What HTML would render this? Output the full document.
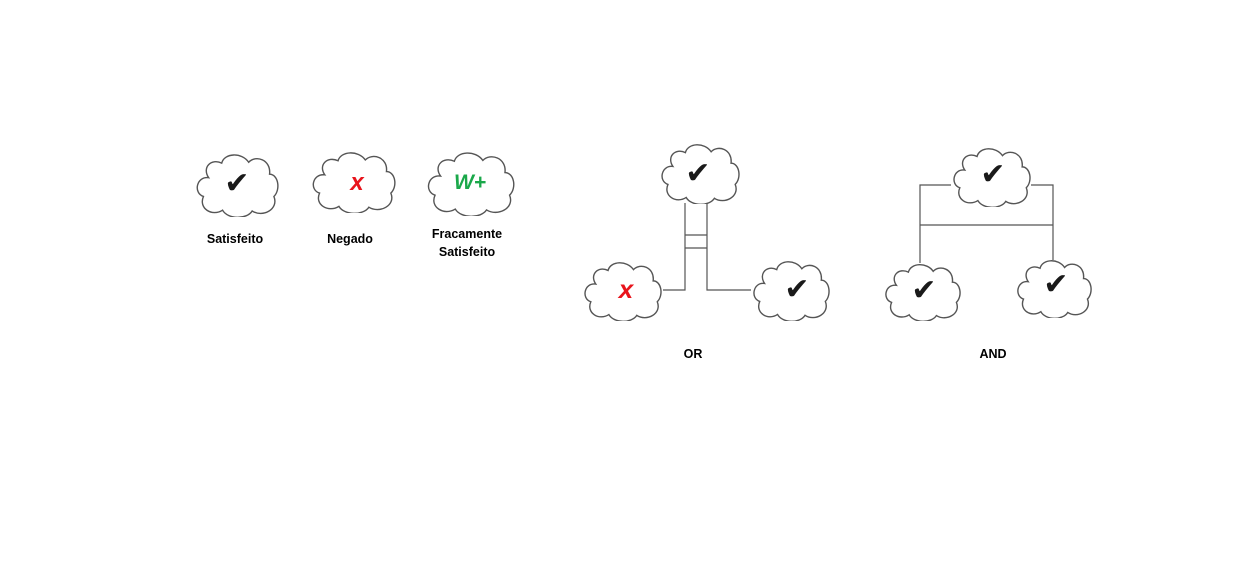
<!DOCTYPE html>
<html><head><meta charset="utf-8"><style>
html,body{margin:0;padding:0;background:#fff;width:1251px;height:588px;overflow:hidden}
svg{display:block}
text{font-family:"Liberation Sans",sans-serif}
.l{font-size:12.5px;font-weight:bold;fill:#000;text-anchor:middle}
.ck{font-size:30px;fill:#1a1a1a;text-anchor:middle;font-family:"DejaVu Sans",sans-serif}
</style></head><body>
<svg width="1251" height="588" viewBox="0 0 1251 588" xmlns="http://www.w3.org/2000/svg">
<defs>
<symbol id="c" viewBox="0 0 100 76" preserveAspectRatio="none">
<path vector-effect="non-scaling-stroke" fill="#fff" stroke="#555" stroke-width="1.4" d="M18,30 C4,28 0,48 12,52 C6,66 22,76 34,68 C40,79 62,79 68,69 C80,77 99,67 93,52 C101,44 98,26 88,26 C90,9 72,3 64,12 C56,0 36,1 33,13 C21,7 10,18 18,30 Z"/>
</symbol>
</defs>
<g fill="none" stroke="#555" stroke-width="1.2">
<path d="M685,203 V290 H663 M707,203 V290 H751 M685,235 H707 M685,248 H707"/>
<path d="M951,185 H920 V263 M1031,185 H1053 V260 M920,225 H1053"/>
</g>
<use href="#c" x="193" y="152" width="87" height="65"/>
<use href="#c" x="309" y="150" width="88" height="63"/>
<use href="#c" x="424" y="150" width="92" height="66"/>
<use href="#c" x="658" y="142" width="83" height="62"/>
<use href="#c" x="581" y="260" width="82" height="61"/>
<use href="#c" x="750" y="259" width="81" height="62"/>
<use href="#c" x="950" y="146" width="82" height="61"/>
<use href="#c" x="882" y="262" width="80" height="59"/>
<use href="#c" x="1014" y="258" width="79" height="60"/>
<text class="ck" x="237" y="193" font-size="26">✔</text>
<text x="357" y="190" font-size="24" font-weight="bold" font-style="italic" fill="#e8141c" text-anchor="middle">x</text>
<text x="470" y="189" font-size="21" font-weight="bold" font-style="italic" fill="#1aa84a" text-anchor="middle">W+</text>
<text class="ck" x="698" y="183">✔</text>
<text x="626" y="298" font-size="26" font-weight="bold" font-style="italic" fill="#e8141c" text-anchor="middle">x</text>
<text class="ck" x="797" y="299">✔</text>
<text class="ck" x="993" y="184" font-size="24">✔</text>
<text class="ck" x="924" y="300" font-size="24">✔</text>
<text class="ck" x="1056" y="294" font-size="24">✔</text>
<text class="l" x="235" y="243">Satisfeito</text>
<text class="l" x="350" y="243">Negado</text>
<text class="l" x="467" y="238">Fracamente</text>
<text class="l" x="467" y="256">Satisfeito</text>
<text class="l" x="693" y="358">OR</text>
<text class="l" x="993" y="358">AND</text>
</svg>
</body></html>
